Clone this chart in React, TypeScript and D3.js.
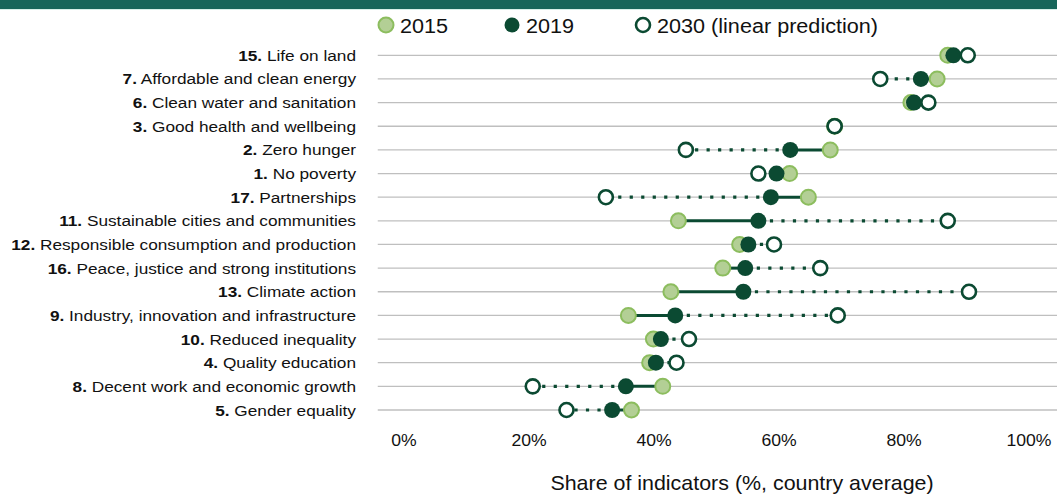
import React, { useEffect, useRef } from 'react';
import * as d3 from 'd3';

// SDG goals, top to bottom
const goalNumbers = ['15.', '7.', '6.', '3.', '2.', '1.', '17.', '11.', '12.', '16.', '13.', '9.', '10.', '4.', '8.', '5.'];
const goalNames = [
  'Life on land',
  'Affordable and clean energy',
  'Clean water and sanitation',
  'Good health and wellbeing',
  'Zero hunger',
  'No poverty',
  'Partnerships',
  'Sustainable cities and communities',
  'Responsible consumption and production',
  'Peace, justice and strong institutions',
  'Climate action',
  'Industry, innovation and infrastructure',
  'Reduced inequality',
  'Quality education',
  'Decent work and economic growth',
  'Gender equality',
];
const values2015 = [87.0, 85.3, 81.1, 68.9, 68.2, 61.7, 64.7, 43.9, 53.7, 51.0, 42.7, 35.9, 39.9, 39.3, 41.4, 36.4];
const values2019 = [87.9, 82.7, 81.6, 68.9, 61.8, 59.6, 58.7, 56.7, 55.1, 54.6, 54.3, 43.4, 41.1, 40.3, 35.5, 33.3];
const values2030 = [90.2, 76.2, 83.9, 68.9, 45.1, 56.7, 32.3, 87.0, 59.2, 66.6, 90.4, 69.4, 45.6, 43.6, 20.6, 26.0];
const xTicks = [0, 20, 40, 60, 80, 100];
const legendLabels = ['2015', '2019', '2030 (linear prediction)'];

const W = 1057;
const H = 494;
const font = "'Liberation Sans', Arial, sans-serif";
const dark = '#0b4a32';
const lightFill = '#b3cf95';
const lightStroke = '#8cbd5e';

export default function App() {
  const ref = useRef<SVGSVGElement>(null);

  useEffect(() => {
    const svg = d3.select(ref.current);
    svg.selectAll('*').remove();

    // header band
    svg.append('rect').attr('x', 0).attr('y', 0).attr('width', W).attr('height', 9).attr('fill', '#17665a');
    svg.append('rect').attr('x', 0).attr('y', 9).attr('width', W).attr('height', 1).attr('fill', '#d6efe8');

    const x = d3.scaleLinear().domain([0, 100]).range([404, 1029]);
    const y = d3.scalePoint<number>().domain(d3.range(goalNames.length)).range([55.3, 410]);
    const r = 7.5;

    // gridlines
    svg.append('g').selectAll('line').data(goalNames).join('line')
      .attr('x1', x(-4.2)).attr('x2', W)
      .attr('y1', (_, i) => y(i)!).attr('y2', (_, i) => y(i)!)
      .attr('stroke', '#bfbfbf').attr('stroke-width', 1.3);

    // row labels (slightly wide lettering as in the original)
    const lab = svg.append('g').selectAll('text').data(goalNames).join('text')
      .attr('transform', (_, i) => `translate(356,${y(i)! + 5.5}) scale(1.113,1)`)
      .attr('text-anchor', 'end')
      .attr('font-family', font).attr('font-size', 15.5).attr('fill', '#111');
    lab.append('tspan').attr('font-weight', 'bold').text((_, i) => goalNumbers[i]);
    lab.append('tspan').text(d => ' ' + d);

    // 2015 -> 2019 solid
    svg.append('g').selectAll('line').data(goalNames).join('line')
      .attr('x1', (_, i) => x(values2015[i])).attr('x2', (_, i) => x(values2019[i]))
      .attr('y1', (_, i) => y(i)!).attr('y2', (_, i) => y(i)!)
      .attr('stroke', dark).attr('stroke-width', 3);

    // 2019 -> 2030 dotted
    svg.append('g').selectAll('line').data(goalNames).join('line')
      .attr('x1', (_, i) => x(values2019[i])).attr('x2', (_, i) => x(values2030[i]))
      .attr('y1', (_, i) => y(i)!).attr('y2', (_, i) => y(i)!)
      .attr('stroke', dark).attr('stroke-width', 3.2)
      .attr('stroke-dasharray', '3.2 8.3');

    svg.append('g').selectAll('circle').data(values2015).join('circle')
      .attr('cx', d => x(d)).attr('cy', (_, i) => y(i)!).attr('r', r)
      .attr('fill', lightFill).attr('stroke', lightStroke).attr('stroke-width', 2);
    svg.append('g').selectAll('circle').data(values2019).join('circle')
      .attr('cx', d => x(d)).attr('cy', (_, i) => y(i)!).attr('r', r + 0.5)
      .attr('fill', dark);
    svg.append('g').selectAll('circle').data(values2030).join('circle')
      .attr('cx', d => x(d)).attr('cy', (_, i) => y(i)!).attr('r', r - 0.5)
      .attr('fill', '#fff').attr('stroke', dark).attr('stroke-width', 2.6);

    // x tick labels
    svg.append('g').selectAll('text').data(xTicks).join('text')
      .attr('transform', d => `translate(${x(d)},446) scale(1.1,1)`)
      .attr('text-anchor', 'middle')
      .attr('font-family', font).attr('font-size', 16).attr('fill', '#111')
      .text(d => d + '%');

    svg.append('text')
      .attr('transform', 'translate(742,490) scale(1.02,1)')
      .attr('text-anchor', 'middle')
      .attr('font-family', font).attr('font-size', 21).attr('fill', '#111')
      .text('Share of indicators (%, country average)');

    // legend
    const legX = [386, 512, 643];
    const leg = svg.append('g');
    legendLabels.forEach((l, i) => {
      const c = leg.append('circle').attr('cx', legX[i]).attr('cy', 25).attr('r', 7.5);
      if (i === 0) c.attr('fill', lightFill).attr('stroke', lightStroke).attr('stroke-width', 2);
      else if (i === 1) c.attr('fill', dark);
      else c.attr('fill', '#fff').attr('stroke', dark).attr('stroke-width', 2.6).attr('r', 7);
      leg.append('text')
        .attr('transform', `translate(${legX[i] + 14},32.5) scale(1.03,1)`)
        .attr('font-family', font).attr('font-size', 21).attr('fill', '#111')
        .text(l);
    });
  }, []);

  return (
    <svg ref={ref} width={W} height={H}
      style={{ position: 'absolute', left: 0, top: 0, background: '#fff' }} />
  );
}
